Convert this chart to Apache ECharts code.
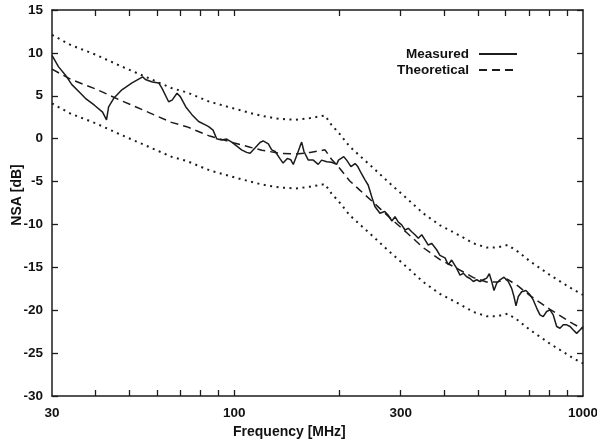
<!DOCTYPE html>
<html>
<head>
<meta charset="utf-8">
<title>NSA</title>
<script src="https://cdn.jsdelivr.net/npm/echarts@6/dist/echarts.min.js"></script>
<style>
  html, body { margin: 0; padding: 0; background: #ffffff; }
  #chart { width: 597px; height: 444px; }
</style>
</head>
<body>
<div id="chart"></div>
<script>
// Measured normalized site attenuation (MHz, dB)
const measFreq = [30, 31.3, 32.8, 34.2, 35.8, 37.4, 39.7, 41.9, 43.0, 43.6, 45.1, 47.6, 50.9, 54.6, 55.6, 58.2, 60.7, 62.0, 64.8, 66.3, 68.5, 70.0, 72.6, 75.6, 79.0, 82.6, 84.4, 86.9, 89.0, 91.9, 95.1, 98.3, 101.5, 104.9, 108.5, 111, 114.6, 118.5, 121, 125.2, 128, 131, 135, 138, 141.9, 145.1, 147.6, 150.9, 154.3, 156, 158.4, 163, 168.4, 174, 178, 184, 190, 196.5, 199, 206, 210, 216, 222, 226, 231, 237, 242, 247.7, 253, 261.6, 270, 276, 283, 289, 295, 302, 308.6, 315.4, 322.6, 329.8, 337, 344.7, 352.3, 360, 368, 380.4, 388.8, 402, 410.8, 420, 424.6, 434, 443.8, 453.7, 463.9, 474.3, 484.7, 495.6, 506.5, 517.8, 529.4, 538.7, 547.2, 555.6, 565.6, 578, 593.5, 610.5, 624.3, 633.9, 642.5, 652.3, 667, 686, 704.6, 720, 736.5, 752.7, 769, 786.6, 804, 821.6, 840.5, 859, 878, 898, 918, 938, 959, 980, 1000];
const measured = [9.7, 8.4, 7.4, 6.3, 5.5, 4.7, 3.9, 3.1, 2.2, 3.7, 4.7, 5.7, 6.5, 7.2, 6.9, 6.6, 6.5, 5.9, 4.3, 4.5, 5.3, 4.9, 3.7, 2.8, 2.0, 1.6, 1.4, 1.0, 0.0, -0.15, -0.05, -0.4, -0.85, -1.3, -1.6, -1.7, -1.1, -0.45, -0.25, -0.6, -1.3, -1.5, -2.3, -2.85, -2.3, -2.45, -3.0, -2.0, -0.9, -0.4, -1.5, -2.5, -2.5, -3.0, -2.5, -2.7, -2.75, -3.0, -2.5, -2.1, -2.5, -3.25, -2.9, -3.25, -4.0, -4.8, -5.4, -6.75, -7.9, -8.7, -8.5, -8.9, -9.6, -9.1, -9.7, -10.05, -10.65, -10.45, -10.85, -11.2, -11.6, -11.2, -11.8, -12.4, -12.2, -12.95, -13.6, -13.9, -14.7, -14.15, -13.95, -15.1, -15.9, -15.7, -16.1, -16.3, -16.65, -16.45, -16.65, -16.45, -16.25, -15.75, -16.65, -17.7, -16.85, -16.45, -16.15, -16.65, -17.45, -18.4, -19.5, -18.4, -17.85, -17.7, -18.2, -18.8, -19.75, -20.55, -20.75, -20.15, -19.95, -20.55, -21.9, -22.1, -21.7, -21.7, -21.9, -22.3, -22.7, -22.3, -21.9];

// Theoretical NSA and its +/-4 dB tolerance band
const theoFreq = [30, 34, 40, 47, 55, 66, 73, 85, 100, 111, 120, 135, 150, 165, 182, 190, 201, 214, 229, 250, 279, 313, 348, 389, 434, 485, 529, 566, 608, 652, 705, 804, 938, 1000];
const theoretical = [8.1, 6.9, 5.8, 4.5, 3.3, 1.9, 1.4, 0.3, -0.5, -1.0, -1.35, -1.7, -1.8, -1.6, -1.3, -2.4, -3.5, -4.9, -6.0, -7.4, -9.2, -11.0, -12.7, -14.1, -15.1, -16.2, -16.7, -16.7, -16.4, -17.2, -18.3, -19.9, -21.6, -22.2];
const upperLimit = [12.1, 10.9, 9.8, 8.5, 7.3, 5.9, 5.4, 4.3, 3.5, 3.0, 2.65, 2.3, 2.2, 2.4, 2.7, 1.6, 0.5, -0.9, -2.0, -3.4, -5.2, -7.0, -8.7, -10.1, -11.1, -12.2, -12.7, -12.7, -12.4, -13.2, -14.3, -15.9, -17.6, -18.2];
const lowerLimit = [4.1, 2.9, 1.8, 0.5, -0.7, -2.1, -2.6, -3.7, -4.5, -5.0, -5.35, -5.7, -5.8, -5.6, -5.3, -6.4, -7.5, -8.9, -10.0, -11.4, -13.2, -15.0, -16.7, -18.1, -19.1, -20.2, -20.7, -20.7, -20.4, -21.2, -22.3, -23.9, -25.6, -26.2];

// Axis ticks and labels
const freqLabels = [30, 100, 300, 1000];
const freqTicks = [40, 50, 60, 70, 80, 90, 100, 200, 300, 400, 500, 600, 700, 800, 900];

const pairs = (xs, ys) => xs.map((x, i) => [x, ys[i]]);

const FONT = '"Liberation Sans", Arial, Helvetica, sans-serif';
const INK = '#1c1c1c';
const TEXT = '#111111';

const chart = echarts.init(document.getElementById('chart'), null, { renderer: 'canvas' });

const xCommon = {
  type: 'log',
  logBase: 10,
  min: 30,
  max: 1000,
  axisLine: { show: true, onZero: false, lineStyle: { color: INK, width: 1.5 } },
  axisTick: { show: true, inside: true, length: 6, customValues: freqTicks, lineStyle: { color: INK, width: 1.3 } },
  splitLine: { show: false },
  minorTick: { show: false },
  minorSplitLine: { show: false }
};

const yCommon = {
  type: 'value',
  min: -30,
  max: 15,
  interval: 5,
  axisLine: { show: true, onZero: false, lineStyle: { color: INK, width: 1.5 } },
  axisTick: { show: true, inside: true, length: 6, lineStyle: { color: INK, width: 1.3 } },
  splitLine: { show: false }
};

chart.setOption({
  animation: false,
  backgroundColor: '#ffffff',
  textStyle: { fontFamily: FONT },
  title: {
    text: 'Frequency [MHz]',
    left: 233,
    top: 425,
    padding: 0,
    textStyle: { fontFamily: FONT, fontWeight: 'bold', fontSize: 14, color: TEXT }
  },
  grid: { left: 52, right: 14, top: 10, bottom: 48, containLabel: false, outerBoundsMode: 'none' },
  legend: {
    data: ['Measured', 'Theoretical'],
    orient: 'vertical',
    align: 'right',
    right: 79,
    top: 47,
    itemWidth: 38,
    itemHeight: 13,
    itemGap: 2,
    padding: 0,
    itemStyle: { opacity: 0 },
    textStyle: { fontFamily: FONT, fontWeight: 'bold', fontSize: 13.5, color: TEXT, padding: [0, 5, 0, 0] }
  },
  xAxis: [
    Object.assign({}, xCommon, {
      position: 'bottom',
      axisLabel: {
        show: true,
        customValues: freqLabels,
        margin: 10,
        fontFamily: FONT,
        fontWeight: 'bold',
        fontSize: 13.5,
        color: TEXT,
        formatter: v => String(Math.round(v))
      }
    }),
    Object.assign({}, xCommon, {
      position: 'top',
      axisLabel: { show: false }
    })
  ],
  yAxis: [
    Object.assign({}, yCommon, {
      position: 'left',
      name: 'NSA [dB]',
      nameLocation: 'middle',
      nameGap: 28,
      nameMoveOverlap: false,
      nameTextStyle: { fontFamily: FONT, fontWeight: 'bold', fontSize: 14, color: TEXT, padding: [0, 0, 0, 16] },
      axisLabel: { show: true, margin: 9, fontFamily: FONT, fontWeight: 'bold', fontSize: 13.5, color: TEXT }
    }),
    Object.assign({}, yCommon, {
      position: 'right',
      axisLabel: { show: false }
    })
  ],
  series: [
    {
      name: 'Upper limit',
      type: 'line',
      data: pairs(theoFreq, upperLimit),
      symbol: 'none',
      lineStyle: { color: INK, width: 2, type: [2, 4.5] },
      z: 2
    },
    {
      name: 'Lower limit',
      type: 'line',
      data: pairs(theoFreq, lowerLimit),
      symbol: 'none',
      lineStyle: { color: INK, width: 2, type: [2, 4.5] },
      z: 2
    },
    {
      name: 'Theoretical',
      type: 'line',
      data: pairs(theoFreq, theoretical),
      symbol: 'none',
      itemStyle: { color: INK },
      lineStyle: { color: INK, width: 1.5, type: [8, 5] },
      z: 3
    },
    {
      name: 'Measured',
      type: 'line',
      data: pairs(measFreq, measured),
      symbol: 'none',
      itemStyle: { color: INK },
      lineStyle: { color: INK, width: 1.5 },
      z: 4
    }
  ]
});
</script>
</body>
</html>
